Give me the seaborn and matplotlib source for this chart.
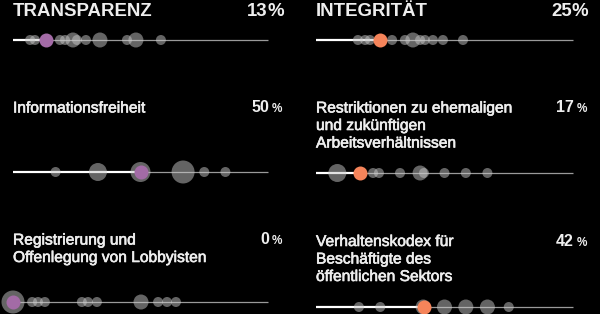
import numpy as np
import pandas as pd
import matplotlib
matplotlib.use("Agg")
import matplotlib.pyplot as plt
import matplotlib.patheffects as pe
import seaborn as sns

# ---------------- data ----------------
headings = ["TRANSPARENZ", "INTEGRITÄT"]
heading_scores = [13, 25]

labels = [
    "Informationsfreiheit",
    "Restriktionen zu ehemaligen\nund zukünftigen\nArbeitsverhältnissen",
    "Registrierung und\nOffenlegung von Lobbyisten",
    "Verhaltenskodex für\nBeschäftigte des\nöffentlichen Sektors",
]
label_scores = [50, 17, 0, 42]

# distribution of all countries (score share, number of countries at that score)
transparenz_x = [0.067, 0.086, 0.13, 0.184, 0.204, 0.235, 0.251, 0.286, 0.341, 0.447, 0.482, 0.58]
transparenz_n = [1, 1, 1, 1, 1, 2, 1, 1, 2, 1, 2, 1]
integritaet_x = [0.163, 0.191, 0.21, 0.25, 0.296, 0.346, 0.377, 0.405, 0.424, 0.455, 0.494, 0.572]
integritaet_n = [1, 1, 1, 1, 1, 1, 2, 1, 1, 1, 1, 1]
info_x = [0.167, 0.333, 0.5, 0.667, 0.75, 0.833]
info_n = [1, 3, 4, 5, 1, 1]
restr_x = [0.083, 0.167, 0.222, 0.245, 0.327, 0.405, 0.42, 0.5, 0.583, 0.667]
restr_n = [3, 1, 1, 1, 1, 2, 1, 1, 1, 1]
regist_x = [0.0, 0.075, 0.098, 0.125, 0.27, 0.294, 0.329, 0.502, 0.569, 0.604, 0.639]
regist_n = [5, 1, 1, 1, 1, 1, 1, 2, 1, 1, 1]
kodex_x = [0.167, 0.25, 0.417, 0.5, 0.583, 0.667, 0.75]
kodex_n = [1, 1, 2, 2, 2, 2, 1]

# ---------------- style ----------------
W, H = 600, 314
BG = "black"
TXT = "#eeeeee"
PURPLE = "#a36ba6"
ORANGE = "#f5845a"
GRAY_DOT = "#c8c8c8"
REG = ["Liberation Sans", "DejaVu Sans"]

sns.set_theme(style="dark")
plt.rcParams["font.family"] = REG

radius_px = {1: 5.0, 2: 7.5, 3: 9.0, 4: 10.0, 5: 11.5}
size_map = {k: (1.44 * r) ** 2 for k, r in radius_px.items()}
HL_SIZE = (1.44 * 7.0) ** 2
thick = [pe.withStroke(linewidth=0.45, foreground=TXT)]

fig = plt.figure(figsize=(W / 100, H / 100), dpi=100, facecolor=BG)


def fx(px):
    return px / W


def fy(py):
    return 1 - py / H


cols = {0: (13, 268), 1: (316, 573)}

panels = [
    # (col, line_y, xs, ns, score, color)
    (0, 40, transparenz_x, transparenz_n, heading_scores[0], PURPLE),
    (1, 40, integritaet_x, integritaet_n, heading_scores[1], ORANGE),
    (0, 172, info_x, info_n, label_scores[0], PURPLE),
    (1, 173, restr_x, restr_n, label_scores[1], ORANGE),
    (0, 302, regist_x, regist_n, label_scores[2], PURPLE),
    (1, 307, kodex_x, kodex_n, label_scores[3], ORANGE),
]

for col, ly, xs, ns, score, hl in panels:
    x0, x1 = cols[col]
    ax = fig.add_axes([fx(x0), fy(ly + 15), (x1 - x0) / W, 30 / H])
    ax.set_facecolor("none")
    v = score / 100
    ax.hlines(0, v, 1, color="#9a9a9a", lw=0.9, zorder=1)
    if v > 0:
        ax.hlines(0, 0, v, color="white", lw=1.6, zorder=2)
    df = pd.DataFrame({"x": xs, "y": 0.0, "n": ns})
    sns.scatterplot(data=df, x="x", y="y", size="n", sizes=size_map,
                    color=GRAY_DOT, alpha=0.5, linewidth=0, legend=False,
                    ax=ax, zorder=3)
    sns.scatterplot(x=[v], y=[0.0], color=hl, s=HL_SIZE, linewidth=0,
                    legend=False, ax=ax, zorder=4)
    for c in ax.collections:
        c.set_clip_on(False)
    ax.set_xlim(0, 1)
    ax.set_ylim(-1, 1)
    ax.axis("off")

# headings
for i, (title, sc) in enumerate(zip(headings, heading_scores)):
    x0, x1 = cols[i]
    fig.text(fx(x0), fy(15.5), title, family=REG, weight="bold",
             fontsize=13.4, color=TXT, ha="left", va="baseline")
    fig.text(fx(x1 - 1), fy(15.5), str(sc), family=REG, weight="bold",
             fontsize=13.4, color=TXT, ha="right", va="baseline")
    fig.text(fx(x1 - 1), fy(15.5), "%", family=REG, weight="bold",
             fontsize=13.4, color=TXT, ha="left", va="baseline")

# indicator labels
label_pos = [(0, 112.5), (1, 112.5), (0, 244.5), (1, 246)]
for (col, base), text, sc in zip(label_pos, labels, label_scores):
    x0, x1 = cols[col]
    for k, line in enumerate(text.split("\n")):
        fig.text(fx(x0), fy(base + 17.5 * k), line, family=REG,
                 fontsize=11.2, color=TXT, ha="left", va="baseline",
                 path_effects=thick)
    fig.text(fx(x1 + 1), fy(base), str(sc), family=REG, weight="bold",
             fontsize=11.5, color=TXT, ha="right", va="baseline")
    fig.text(fx(x1 + 4), fy(base), "%", family=REG, weight="bold",
             fontsize=8.5, color=TXT, ha="left", va="baseline")

fig.savefig("out.png", dpi=100, facecolor=BG)
